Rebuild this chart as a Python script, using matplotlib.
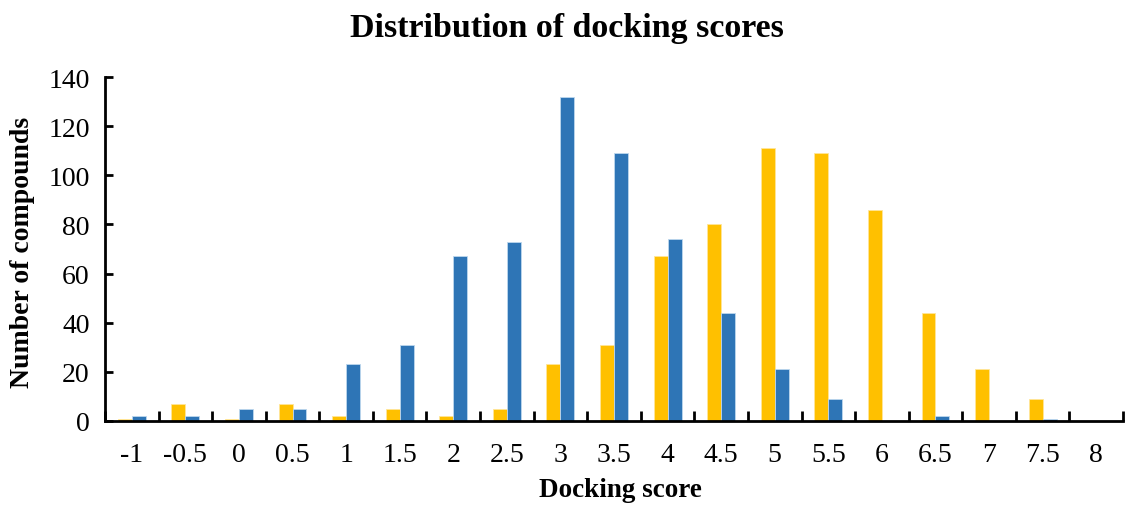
import matplotlib.pyplot as plt
import numpy as np

plt.rcParams["font.family"] = ["Liberation Serif", "DejaVu Serif"]

# Docking score bins
scores = ["-1", "-0.5", "0", "0.5", "1", "1.5", "2", "2.5", "3", "3.5",
          "4", "4.5", "5", "5.5", "6", "6.5", "7", "7.5", "8"]
# Number of compounds per bin
orange_counts = [1, 7, 1, 7, 2, 5, 2, 5, 23, 31, 67, 80, 111, 109, 86, 44, 21, 9, 0]
blue_counts = [2, 2, 5, 5, 23, 31, 67, 73, 132, 109, 74, 44, 21, 9, 0, 2, 0, 1, 0]

x = np.arange(len(scores))
width = 0.26

fig = plt.figure(figsize=(11.25, 5.06), dpi=100)
ax = fig.add_axes([105 / 1125, 1 - 422 / 506, (1123 - 105) / 1125, (422 - 78) / 506])

ax.bar(x - width / 2, orange_counts, width, color="#FFC000", edgecolor="#FFE699", linewidth=0.6)
ax.bar(x + width / 2, blue_counts, width, color="#2E75B6", edgecolor="#BDD7EE", linewidth=0.6)

ax.set_xlim(-0.5, -0.5 + (1123 - 105) / 54.1)
ax.set_ylim(0, 140)
ax.set_yticks(range(0, 141, 20))

ax.set_xticks(x)
ax.set_xticklabels(scores)
ax.set_xticks(np.arange(len(scores) + 1) - 0.5, minor=True)
ax.tick_params(axis="x", which="major", length=0, pad=15, labelsize=20)
ax.tick_params(axis="x", which="minor", direction="in", length=7, width=2)
ax.tick_params(axis="y", direction="in", length=6, width=2, labelsize=20, pad=11)

for side in ["top", "right"]:
    ax.spines[side].set_visible(False)
for side in ["left", "bottom"]:
    ax.spines[side].set_linewidth(2)

fig.text(620 / 1125, 1 - 491 / 506, "Docking score",
         fontsize=19.5, fontweight="bold", ha="center", va="center")
fig.text(23 / 1125, 1 - 252 / 506, "Number of compounds", rotation=90,
         fontsize=20, fontweight="bold", ha="center", va="center")
fig.text(567 / 1125, 1 - 29 / 506, "Distribution of docking scores",
         fontsize=24.5, fontweight="bold", ha="center", va="center")

fig.savefig("out.png", dpi=100)
